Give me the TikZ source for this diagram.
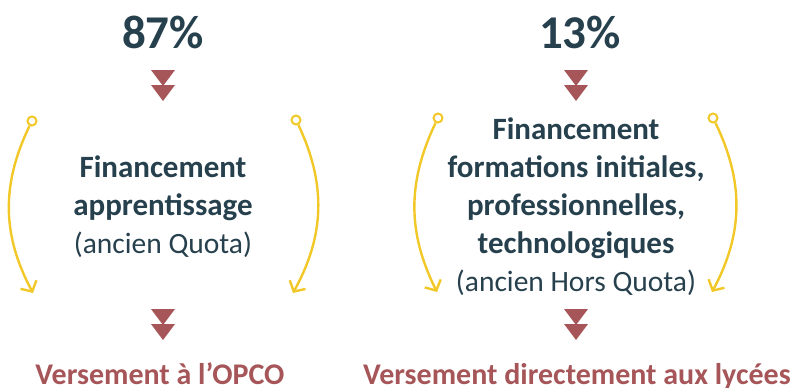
\documentclass[tikz,border=0pt]{standalone}
\usepackage{fontspec}
\setmainfont{Carlito}
\usetikzlibrary{arrows.meta}
\definecolor{ink}{RGB}{38,64,77}
\definecolor{brick}{RGB}{166,86,88}
\definecolor{gold}{RGB}{242,200,40}
\newcommand{\oldname}[1]{{\fontsize{29.5}{38}\selectfont\mdseries #1}}
\tikzset{
  pct/.style={font=\fontsize{47}{50}\selectfont\bfseries, text=ink, anchor=base, inner sep=0pt},
  fund/.style={font=\fontsize{31}{38}\selectfont\bfseries, text=ink, align=center, anchor=base, inner sep=0pt},
  dest/.style={font=\fontsize{30}{32}\selectfont\bfseries, text=brick, anchor=base, inner sep=0pt},
  ring/.style={circle, draw=gold, line width=2pt, fill=white, minimum size=9pt, inner sep=0pt},
  flow/.style={draw=gold, line width=2.4pt, -{Straight Barb[length=8pt,width=18pt]}},
  chevron/.pic={
    \fill[brick] (-12,0) -- (12,0) -- (0,16) -- cycle;
    \fill[brick] (-12,15) -- (12,15) -- (0,31) -- cycle;
  }
}
\begin{document}
\begin{tikzpicture}[x=1pt, y=-1pt]
\useasboundingbox (0,0) rectangle (790,388);

% Quota
\node[pct] (pq) at (163,48) {87\%};
\pic at (163,70) {chevron};
\node[fund] (fq) at (163,253) {Financement\\apprentissage\\\oldname{(ancien Quota)}};
\pic at (163,309) {chevron};
\node[dest] (vq) at (160,384) {Versement à l’OPCO};

\node[ring] (sq1) at (32,121) {};
\coordinate (eq1) at (33,293);
\draw[flow] (sq1) to[bend right=27] (eq1);
\node[ring] (sq2) at (296,120) {};
\coordinate (eq2) at (293,293);
\draw[flow] (sq2) to[bend left=27] (eq2);

% Hors Quota
\node[pct] (ph) at (580,48) {13\%};
\pic at (576,70) {chevron};
\node[fund] (fh) at (576,291) {Financement\\formations initiales,\\professionnelles,\\technologiques\\\oldname{(ancien Hors Quota)}};
\pic at (576,309) {chevron};
\node[dest] (vh) at (577,384) {Versement directement aux lycées};

\node[ring] (sh1) at (438,118) {};
\coordinate (eh1) at (437,292);
\draw[flow] (sh1) to[bend right=26] (eh1);
\node[ring] (sh2) at (713,118) {};
\coordinate (eh2) at (712,292);
\draw[flow] (sh2) to[bend left=27] (eh2);
\end{tikzpicture}
\end{document}
